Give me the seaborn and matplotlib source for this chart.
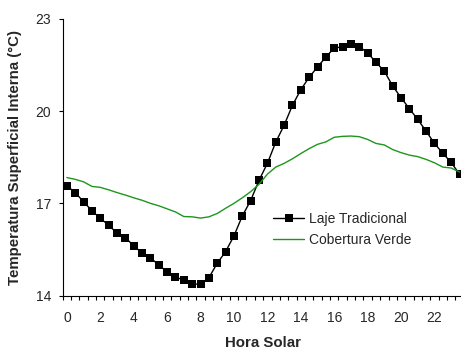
import numpy as np
import pandas as pd
import matplotlib
matplotlib.use("Agg")
import matplotlib.pyplot as plt
import seaborn as sns

# Half-hourly solar time
hora = [h / 2 for h in range(48)]

laje_tradicional = [
    17.57, 17.35, 17.05, 16.76, 16.51, 16.29, 16.03, 15.88, 15.62, 15.38,
    15.23, 14.99, 14.77, 14.60, 14.50, 14.37, 14.37, 14.58, 15.05, 15.43,
    15.94, 16.59, 17.09, 17.75, 18.30, 18.99, 19.54, 20.19, 20.70, 21.10,
    21.44, 21.76, 22.06, 22.09, 22.18, 22.10, 21.90, 21.59, 21.30, 20.82,
    20.44, 20.08, 19.73, 19.35, 18.95, 18.63, 18.33, 17.95,
]

cobertura_verde = [
    17.84, 17.78, 17.70, 17.55, 17.52, 17.44, 17.35, 17.27, 17.18, 17.10,
    17.00, 16.92, 16.82, 16.72, 16.57, 16.56, 16.52, 16.56, 16.67, 16.84,
    17.00, 17.18, 17.38, 17.62, 17.95, 18.18, 18.30, 18.45, 18.62, 18.78,
    18.92, 19.00, 19.15, 19.18, 19.19, 19.17, 19.08, 18.95, 18.90, 18.75,
    18.65, 18.57, 18.52, 18.43, 18.32, 18.18, 18.15, 18.02,
]

x_ticks = list(range(0, 23, 2))
y_ticks = [14, 17, 20, 23]

df = pd.DataFrame({
    "Hora": hora,
    "Laje Tradicional": laje_tradicional,
    "Cobertura Verde": cobertura_verde,
})

sns.set_style("ticks")
plt.rcParams["font.family"] = ["Liberation Sans", "DejaVu Sans"]

fig = plt.figure(figsize=(4.61, 3.49), dpi=100)
W, H = 461, 349
ax = fig.add_axes([62.7 / W, (H - 295.5) / H, 401 / W, 276.5 / H])

sns.lineplot(data=df, x="Hora", y="Laje Tradicional", ax=ax, color="black",
             linewidth=1.0, marker="s", markersize=5.6, markeredgewidth=0,
             label="Laje Tradicional")
sns.lineplot(data=df, x="Hora", y="Cobertura Verde", ax=ax, color="#1e961e",
             linewidth=1.0, label="Cobertura Verde")

ax.set_xlim(-0.25, 23.75)
ax.set_ylim(14, 23)

ax.set_xticks(x_ticks)
ax.set_xticklabels([str(t) for t in x_ticks], fontsize=10)
ax.set_xticks(np.arange(-0.25, 23.8, 0.5), minor=True)
ax.tick_params(axis="x", which="major", length=0, pad=11)
ax.tick_params(axis="x", which="minor", length=3.2, width=0.8, color="black")

ax.set_yticks(y_ticks)
ax.set_yticklabels([str(t) for t in y_ticks], fontsize=10)
ax.tick_params(axis="y", which="major", length=3.2, width=0.8, color="black", pad=5)

for side in ("top", "right"):
    ax.spines[side].set_visible(False)
for side in ("left", "bottom"):
    ax.spines[side].set_color("black")
    ax.spines[side].set_linewidth(0.8)

ax.set_xlabel("Hora Solar", fontsize=10.8, fontweight="bold", labelpad=8)
ax.set_ylabel("Temperatura Superficial Interna (°C)", fontsize=10.8,
              fontweight="bold", labelpad=10)

leg = ax.legend(loc="upper left", bbox_to_anchor=(0.525, 0.302), frameon=False,
                fontsize=10, handlelength=2.2, handletextpad=0.4,
                labelspacing=0.52, borderaxespad=0, borderpad=0)

fig.savefig("out.png", dpi=100)
